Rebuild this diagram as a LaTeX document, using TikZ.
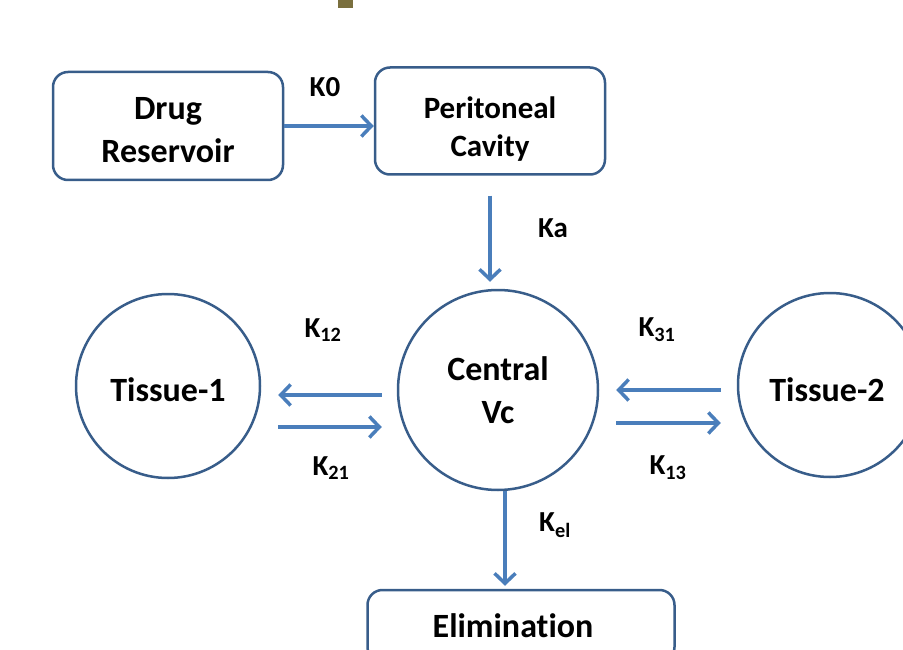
\documentclass[tikz,border=0pt]{standalone}
\usepackage{fontspec}
\setmainfont{Carlito}[Ligatures=NoCommon]
\usetikzlibrary{arrows.meta, positioning, calc}
\definecolor{edgeblue}{RGB}{56, 93, 138}
\definecolor{flowblue}{RGB}{74, 126, 187}
\definecolor{markolive}{RGB}{122, 111, 62}

\begin{document}
\begin{tikzpicture}[
    x=1pt, y=-1pt,
    box/.style={rectangle, rounded corners=15pt, draw=edgeblue, line width=2.5pt, align=center, font=\bfseries\fontsize{34}{43}\selectfont},
    comp/.style={circle, draw=edgeblue, line width=2.5pt, inner sep=0pt, align=center, font=\bfseries\fontsize{34}{43}\selectfont},
    rate/.style={font=\bfseries\fontsize{29}{35}\selectfont},
    flow/.style={draw=flowblue, line width=3.5pt, -{Straight Barb[length=10pt,width=21pt]}}
]
\clip (0,0) rectangle (903,650);

% top mark
\fill[markolive] (338,0) rectangle (353,8);

% Boxes
\node[box, minimum width=230pt, minimum height=108pt] (reservoir) at (168,126) {\rule{0pt}{30pt}Drug\\Reservoir};
\node[box, minimum width=230pt, minimum height=107pt, font=\bfseries\fontsize{31}{38}\selectfont] (cavity) at (490,121) {\rule{0pt}{37pt}Peritoneal\\Cavity};
\node[box, minimum width=307pt, minimum height=72pt] (elimination) at (521,626) {Elimination\hspace*{16pt}};

% Compartments
\node[comp, minimum size=200pt] (central) at (498,390) {Central\\Vc};
\node[comp, minimum size=184pt] (tissue1) at (168,386) {\rule{0pt}{32pt}Tissue-1};
\node[comp, minimum size=184pt] (tissue2) at (830,385) {\rule{0pt}{34pt}Tissue-2\hspace*{6pt}};

% Arrows
\draw[flow] (reservoir.east) -- (reservoir.east -| cavity.west);
\draw[flow, shorten >=7pt] ([yshift=-20pt]cavity.south) -- (cavity.south |- central.north);
\draw[flow] ([shift={(-15,5)}]central.west) -- ([shift={(17,9)}]tissue1.east);
\draw[flow] ([shift={(17,41)}]tissue1.east) -- ([shift={(-15,37)}]central.west);
\draw[flow] ([shift={(-16,5)}]tissue2.west) -- ([shift={(17,0)}]central.east);
\draw[flow] ([shift={(17,33)}]central.east) -- ([shift={(-16,38)}]tissue2.west);
\draw[flow, shorten >=3pt] ([xshift=7pt]central.south) -- ([xshift=7pt]central.south |- elimination.north);

% Rate constants
\node[rate] (k0) at (325,87) {K0};
\node[rate] (ka) at (553,228) {Ka};
\node[rate] (k12) at (323,330) {K\textsubscript{12}};
\node[rate] (k21) at (331,468) {K\textsubscript{21}};
\node[rate] (k31) at (657,330) {K\textsubscript{31}};
\node[rate] (k13) at (668,468) {K\textsubscript{13}};
\node[rate] (kel) at (555,525) {K\textsubscript{el}};

\end{tikzpicture}
\end{document}
